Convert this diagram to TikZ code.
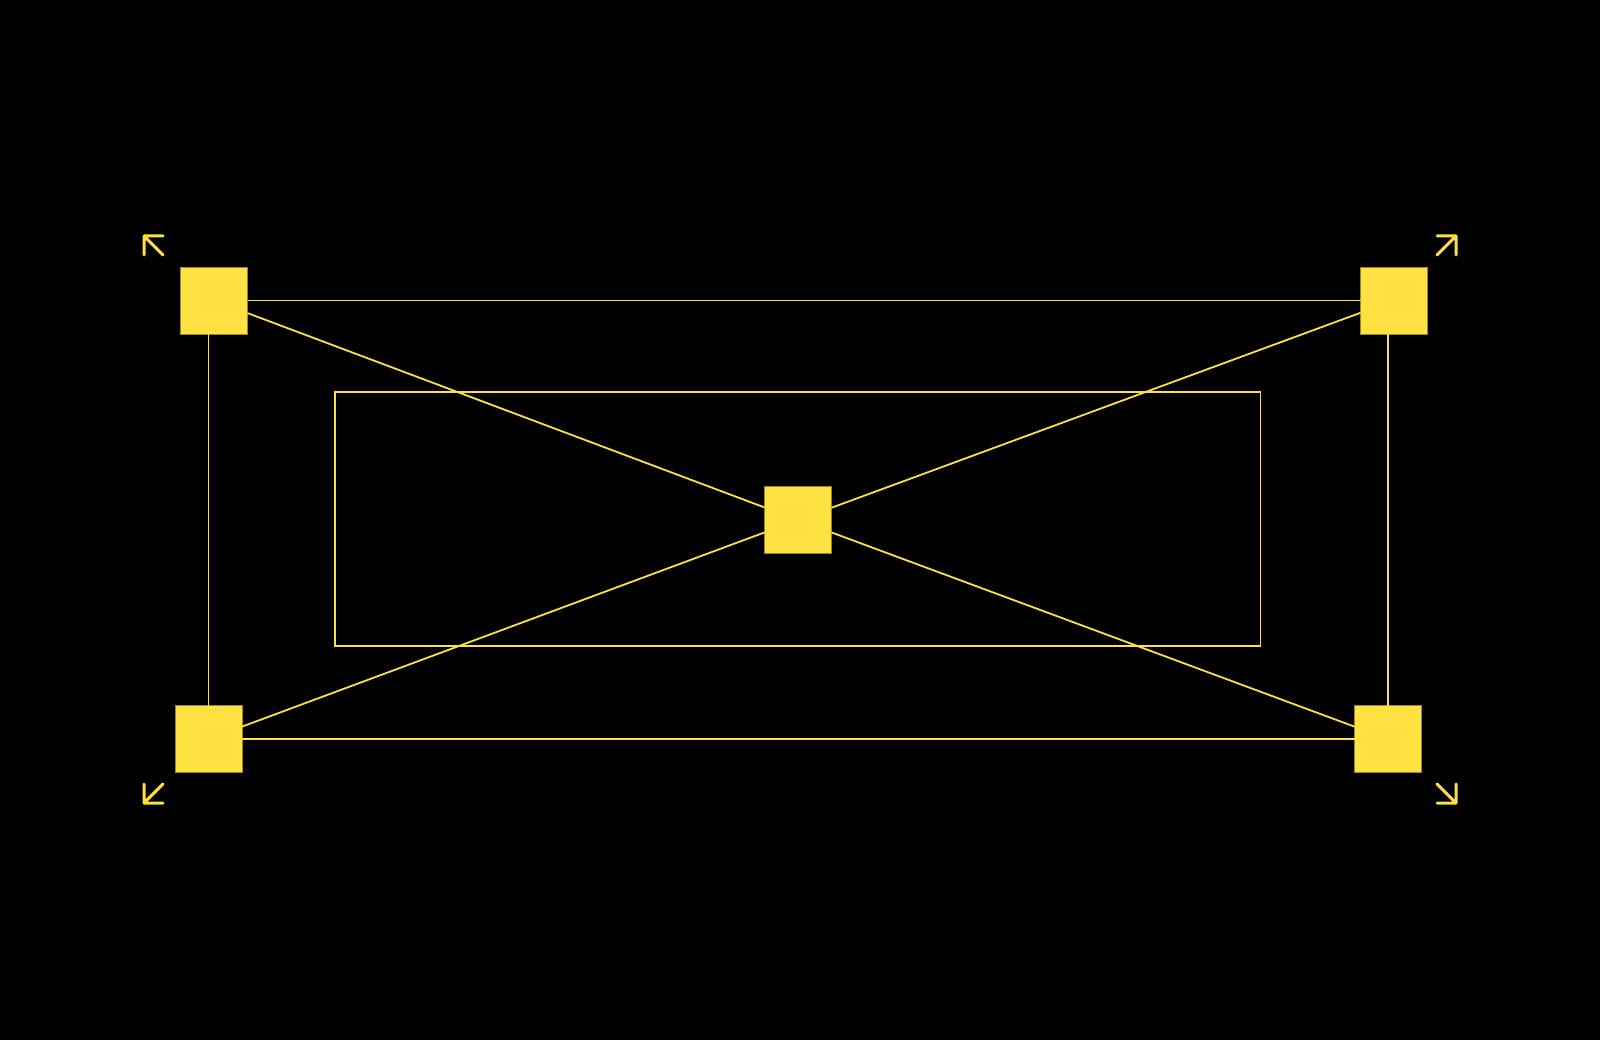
\documentclass[tikz,border=0pt]{standalone}
\begin{document}
\begin{tikzpicture}[x=1pt,y=-1pt,
  bg/.style={fill=black},
  sq/.style={draw=yellowline!60!black,line width=0.8pt,fill=yellowfill,minimum size=67pt,inner sep=0pt,outer sep=0pt},
  link/.style={draw=yellowline,line width=1.8pt},
  frame/.style={draw=yellowline,line width=1.5pt,inner sep=0pt,outer sep=0pt},
  handle/.style={draw=yellowline,line width=3pt,line cap=round,line join=round}]
\definecolor{yellowfill}{HTML}{FFE142}
\definecolor{yellowline}{HTML}{FFE040}
\fill[bg] (0,0) rectangle (1600,1040);
\useasboundingbox (0,0) rectangle (1600,1040);
% inner frame
\node[frame,minimum width=925.5pt,minimum height=254pt] (inner) at (797.5,519) {};
% square nodes
\node[sq] (TL) at (214,300.5) {};
\node[sq] (TR) at (1394,300.5) {};
\node[sq] (BL) at (208.5,739) {};
\node[sq] (BR) at (1388,739) {};
\node[sq] (C) at (798,520) {};
% edges
\draw[link] (TL) -- (TR);
\draw[link] (BL) -- (BR);
\draw[link] (TL.south -| BL) -- (BL);
\draw[link] (TR.south -| BR) -- (BR);
\draw[link] (TL) -- (C);
\draw[link] (TR) -- (C);
\draw[link] (BL) -- (C);
\draw[link] (BR) -- (C);
% corner resize handles
\coordinate (hTL) at (144,236);
\coordinate (hTR) at (1456,236);
\coordinate (hBL) at (144,803);
\coordinate (hBR) at (1456,803);
\draw[handle] ([xshift=19pt]hTL) -- (hTL) -- ([yshift=-19pt]hTL) (hTL) -- ([xshift=19pt,yshift=-19pt]hTL);
\draw[handle] ([xshift=-19pt]hTR) -- (hTR) -- ([yshift=-19pt]hTR) (hTR) -- ([xshift=-19pt,yshift=-19pt]hTR);
\draw[handle] ([xshift=19pt]hBL) -- (hBL) -- ([yshift=19pt]hBL) (hBL) -- ([xshift=19pt,yshift=19pt]hBL);
\draw[handle] ([xshift=-19pt]hBR) -- (hBR) -- ([yshift=19pt]hBR) (hBR) -- ([xshift=-19pt,yshift=19pt]hBR);
\end{tikzpicture}
\end{document}
